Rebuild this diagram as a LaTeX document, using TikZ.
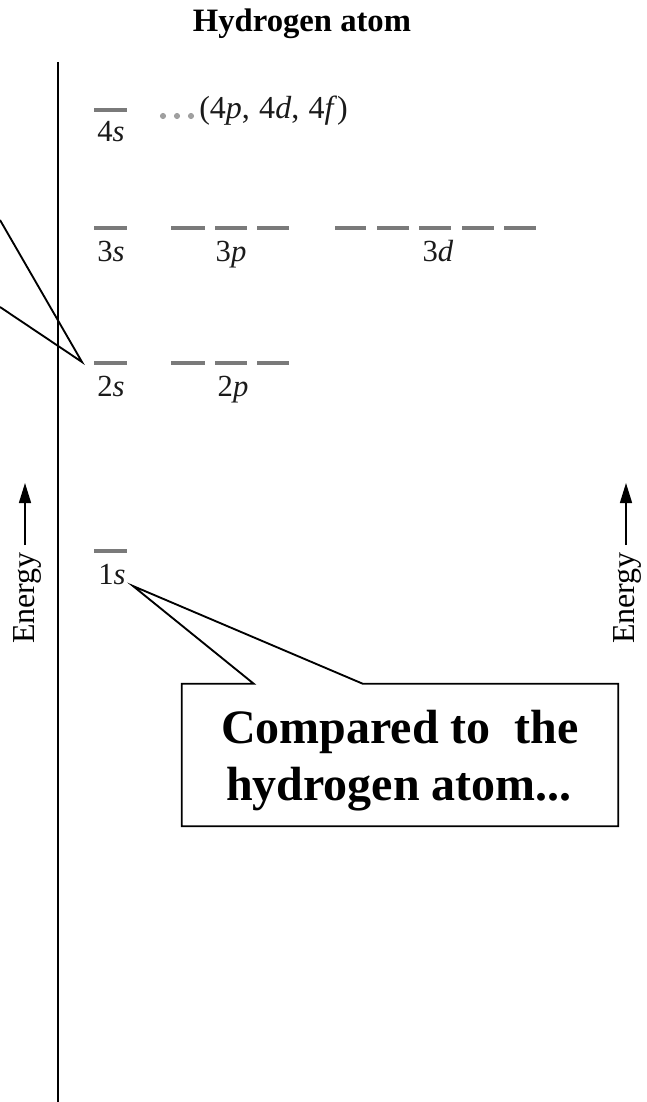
\documentclass[tikz,border=0pt]{standalone}
\usepackage{fontspec}
\setmainfont{Liberation Serif}
\usetikzlibrary{arrows.meta,calc}
\definecolor{lvlgray}{HTML}{7A7A7A}
\definecolor{dotgray}{HTML}{A0A0A0}
\definecolor{labblack}{HTML}{1A1A1A}
\begin{document}
\begin{tikzpicture}[x=0.75pt,y=-0.75pt,
  lvl/.style={draw=lvlgray, line width=2.6pt},
  lab/.style={anchor=base, inner sep=0pt, text=labblack, font=\fontsize{23pt}{27pt}\selectfont},
  ttl/.style={anchor=base, inner sep=0pt, font=\bfseries\fontsize{24.5pt}{28pt}\selectfont},
  big/.style={anchor=base, inner sep=0pt, font=\bfseries\fontsize{36pt}{42pt}\selectfont},
  energy/.style={anchor=base, rotate=90, inner sep=0pt, font=\fontsize{24pt}{28pt}\selectfont},
  earrow/.style={line width=1.1pt, -{Triangle[length=15pt,width=9pt]}},
  axis/.style={line width=1.4pt},
  callout/.style={line width=1.4pt, line join=miter}
]
\useasboundingbox (0,0) rectangle (646,1102);

% title
\node[ttl] (title) at (302,32) {Hydrogen atom};

% vertical axis line
\coordinate (vtop) at (58,62);
\coordinate (vbot) at (58,1102);
\draw[axis] (vtop) -- (vbot);

% levels n = 4
\draw[lvl] (94,110) -- (127,110);
\node[lab] (l4s) at (111,142) {4\textit{s}};
\fill[dotgray] (163,116) circle (2.3pt);
\fill[dotgray] (177,116) circle (2.3pt);
\fill[dotgray] (191,116) circle (2.3pt);
\node[lab, anchor=base west, font=\fontsize{24pt}{28pt}\selectfont] (l4) at (199,119) {(4\textit{p},\kern1pt{} 4\textit{d},\kern1pt{} 4\textit{f})};

% levels n = 3
\draw[lvl] (94,228) -- (127,228);
\draw[lvl] (171,228) -- (205,228);
\draw[lvl] (215,228) -- (247,228);
\draw[lvl] (257,228) -- (289,228);
\draw[lvl] (335,228) -- (366,228);
\draw[lvl] (377,228) -- (409,228);
\draw[lvl] (419,228) -- (451,228);
\draw[lvl] (462,228) -- (494,228);
\draw[lvl] (504,228) -- (536,228);
\node[lab] (l3s) at (111,261) {3\textit{s}};
\node[lab] (l3p) at (231,261) {3\textit{p}};
\node[lab] (l3d) at (438,261) {3\textit{d}};

% levels n = 2
\draw[lvl] (94,363) -- (127,363);
\draw[lvl] (171,363) -- (205,363);
\draw[lvl] (215,363) -- (247,363);
\draw[lvl] (257,363) -- (289,363);
\node[lab] (l2s) at (111,396) {2\textit{s}};
\node[lab] (l2p) at (233,396) {2\textit{p}};

% level n = 1
\draw[lvl] (94,551) -- (127,551);
\node[lab] (l1s) at (112,584) {1\textit{s}};

% left callout pointer (box outside the frame)
\coordinate (tipL) at (82,362);
\coordinate (cLa) at (0,220);
\coordinate (cLb) at (0,307);
\draw[callout] (cLa) -- (tipL) -- (cLb);

% energy arrows
\coordinate (eLa) at (25,545);
\coordinate (eLb) at (25,483);
\draw[earrow] (eLa) -- (eLb);
\node[energy] (eL) at (34,598) {Energy};
\coordinate (eRa) at (626,545);
\coordinate (eRb) at (626,483);
\draw[earrow] (eRa) -- (eRb);
\node[energy] (eR) at (634,598) {Energy};

% callout box
\node[draw=none, fill=white, minimum width=327pt, minimum height=106.5pt, inner sep=0pt] (box) at (400,755) {};
\coordinate (tipB) at (133,586);
\draw[callout, fill=white] ($(box.north west)+(72,0)$) -- (tipB) -- ($(box.north west)+(181,0)$)
   -- (box.north east) -- (box.south east) -- (box.south west) -- (box.north west) -- cycle;
\node[big] (cmp1) at (400,743) {Compared to\ \ the};
\node[big] (cmp2) at (399,800) {hydrogen atom...};
\end{tikzpicture}
\end{document}
